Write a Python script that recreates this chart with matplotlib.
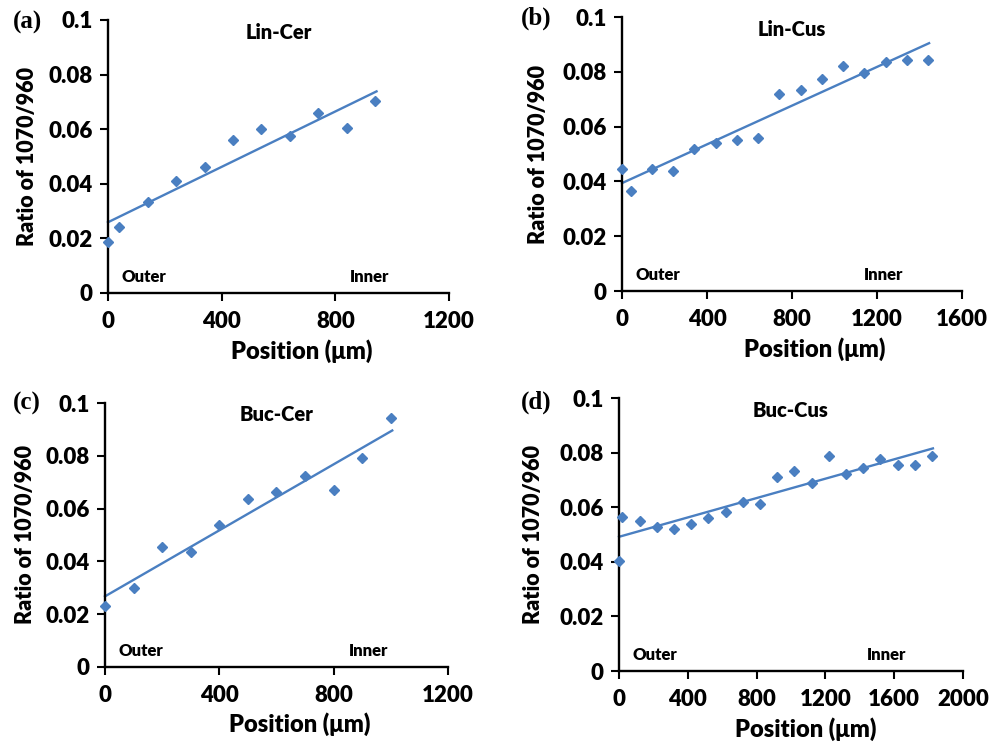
import numpy as np
import matplotlib
matplotlib.use("Agg")
from matplotlib import pyplot as plt

# 数据
pos_a = [0, 40, 140, 240, 340, 440, 540, 640, 740, 840, 940]
ratio_a = [0.0186, 0.0242, 0.0335, 0.041, 0.046, 0.0562, 0.060, 0.0575, 0.0658, 0.0604, 0.0703]

pos_b = [0, 40, 140, 240, 340, 440, 540, 640, 740, 840, 940, 1040, 1140, 1240, 1340, 1440]
ratio_b = [0.0445, 0.0364, 0.0447, 0.0437, 0.0518, 0.0542, 0.0552, 0.0559, 0.072, 0.0732,
           0.0773, 0.082, 0.0795, 0.0837, 0.0842, 0.0842]

pos_c = [0, 100, 200, 300, 400, 500, 600, 700, 800, 900, 1000]
ratio_c = [0.023, 0.0299, 0.0456, 0.0435, 0.0537, 0.0635, 0.0663, 0.0722, 0.0671, 0.0792, 0.0942]

pos_d = [0, 20, 120, 220, 320, 420, 520, 620, 720, 820, 920, 1020, 1120, 1220, 1320, 1420,
         1520, 1620, 1720, 1820]
ratio_d = [0.0404, 0.0563, 0.0551, 0.0526, 0.0521, 0.0539, 0.056, 0.0583, 0.0619, 0.0612,
           0.071, 0.0734, 0.0688, 0.0788, 0.072, 0.0744, 0.0778, 0.0754, 0.0754, 0.0786]

names = ["Lin-Cer", "Lin-Cus", "Buc-Cer", "Buc-Cus"]
letters = ["(a)", "(b)", "(c)", "(d)"]
xmax = [1200, 1600, 1200, 2000]
xticks = [[0, 400, 800, 1200], [0, 400, 800, 1200, 1600], [0, 400, 800, 1200],
          [0, 400, 800, 1200, 1600, 2000]]
yticks = [0, 0.02, 0.04, 0.06, 0.08, 0.1]
ytick_labels = ["0", "0.02", "0.04", "0.06", "0.08", "0.1"]

data = [(pos_a, ratio_a), (pos_b, ratio_b), (pos_c, ratio_c), (pos_d, ratio_d)]

# 子图位置 (figure fraction)
boxes = [[0.1084, 0.6057, 0.3424, 0.3674],
         [0.6245, 0.6083, 0.3414, 0.3688],
         [0.1054, 0.1023, 0.3444, 0.3553],
         [0.6215, 0.0969, 0.3454, 0.3674]]
xlabel_x = [0.569, 0.568, 0.568, 0.544]
ylabel_x = [-0.205, -0.215, -0.201, -0.218]
inner_x = [0.71, 0.71, 0.71, 0.72]
# 面板字母位置 (像素)
letter_px = [(13, 22), (521, 18), (13, 403), (521, 402)]

blue = "#4a7fc1"
font = "Lato"

fig = plt.figure(figsize=(9.96, 7.43), dpi=100)

for i in range(4):
    ax = fig.add_axes(boxes[i])
    x, y = data[i]
    ax.plot(x, y, "D", color=blue, markersize=5.2, clip_on=False, zorder=3)
    # 线性趋势线
    k, b = np.polyfit(x, y, 1)
    xs = np.array([0, max(x) + 5])
    ax.plot(xs, k * xs + b, color=blue, linewidth=1.7, clip_on=False, zorder=2)

    ax.set_xlim(0, xmax[i])
    ax.set_ylim(0, 0.1)
    ax.set_xticks(xticks[i])
    ax.set_yticks(yticks)
    ax.set_yticklabels(ytick_labels)
    for lab in ax.get_xticklabels() + ax.get_yticklabels():
        lab.set_fontfamily(font)
        lab.set_fontweight("heavy")
        lab.set_fontsize(16)
    ax.tick_params(direction="out", length=6, width=1.5, pad=5)
    ax.tick_params(axis="x", pad=7)
    ax.spines["top"].set_visible(False)
    ax.spines["right"].set_visible(False)
    ax.spines["left"].set_linewidth(1.7)
    ax.spines["bottom"].set_linewidth(1.7)

    ax.set_xlabel("Position (μm)", fontfamily=font, fontweight="heavy", fontsize=17)
    ax.xaxis.set_label_coords(xlabel_x[i], -0.17)
    ax.set_ylabel("Ratio of 1070/960", fontfamily=font, fontweight="heavy", fontsize=15.5)
    ax.yaxis.set_label_coords(ylabel_x[i], 0.5)

    ax.text(0.5, 0.955, names[i], transform=ax.transAxes, ha="center", va="center",
            fontfamily=font, fontweight="heavy", fontsize=14.5)
    ax.text(0.04, 0.06, "Outer", transform=ax.transAxes, ha="left", va="center",
            fontfamily=font, fontweight="heavy", fontsize=12)
    ax.text(inner_x[i], 0.06, "Inner", transform=ax.transAxes, ha="left", va="center",
            fontfamily=font, fontweight="heavy", fontsize=12)

    lx, ly = letter_px[i]
    fig.text(lx / 996, 1 - ly / 743, letters[i], ha="left", va="center",
             fontfamily="Liberation Serif", fontweight="bold", fontsize=18)

plt.savefig("out.png", dpi=100)
